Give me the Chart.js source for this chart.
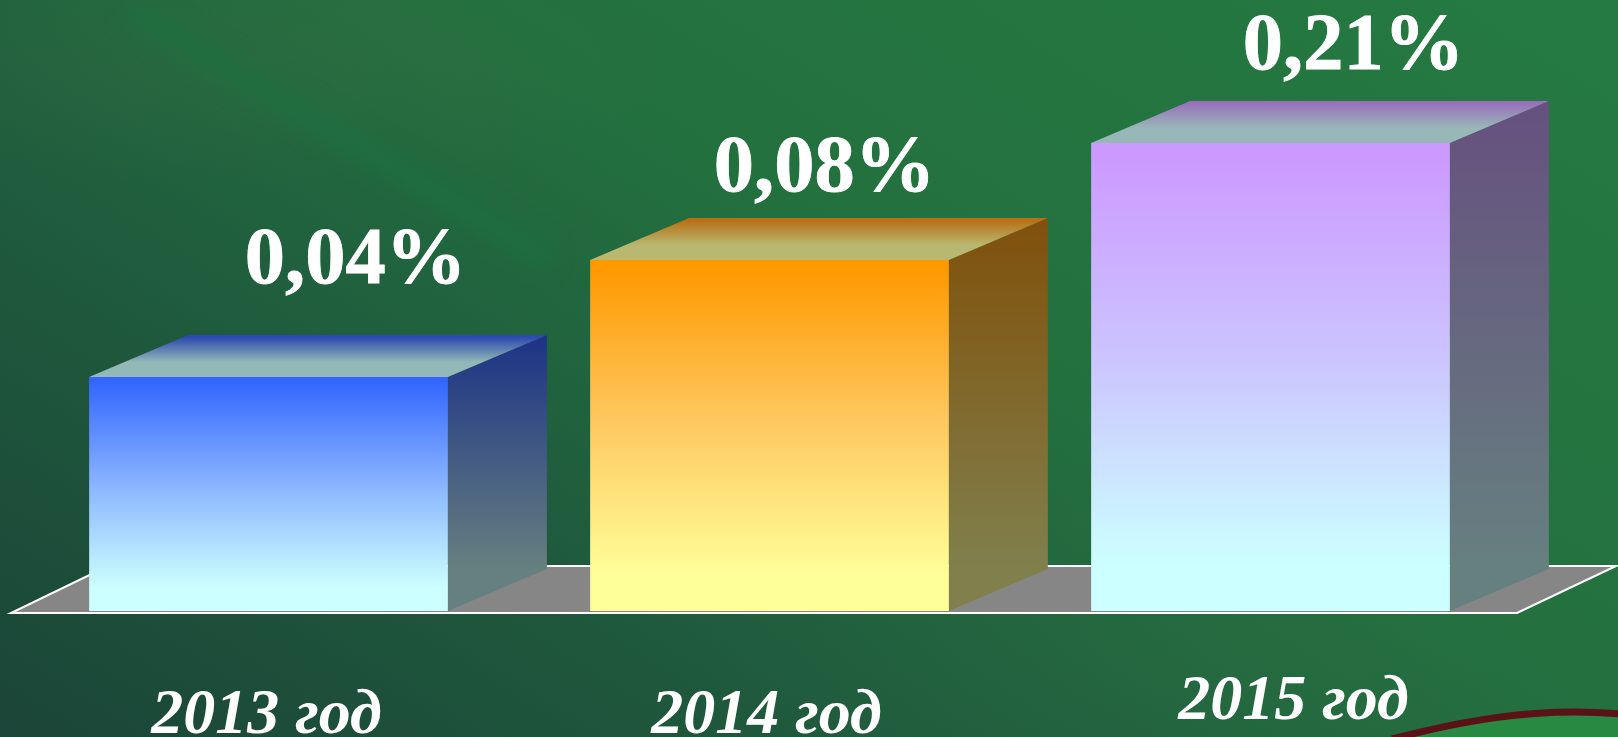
<!DOCTYPE html>
<html lang="ru">
<head>
<meta charset="UTF-8">
<title>2013-2015</title>
<script src="https://cdn.jsdelivr.net/npm/chart.js"></script>
<style>
    html, body { margin: 0; padding: 0; width: 1618px; height: 737px; overflow: hidden; }
    body {
        background:
            radial-gradient(ellipse 420px 130px at 260px 60px, rgba(70,115,70,0.22), rgba(70,115,70,0)),
            radial-gradient(ellipse 500px 200px at 1200px 660px, rgba(50,110,70,0.22), rgba(50,110,70,0)),
            linear-gradient(32deg, #1b4538 0%, #1f5a3d 30%, #23703f 58%, #257a42 100%);
    }
    canvas { display: block; }
</style>
</head>
<body>
<canvas id="chart" width="1618" height="737"></canvas>
<script>
// data
const categories = ['2013 год', '2014 год', '2015 год'];
const percentLabels = ['0,04%', '0,08%', '0,21%'];
// the picture's bars are not to scale with their labels, so heights are kept as drawn (tallest = 1)
const barLevels = [0.5, 0.75, 1];

// colours per bar: [top, middle, bottom]
const frontColors = [['#3366ff', '#8ab4ff', '#ccffff'], ['#ff9900', '#ffc860', '#ffff99'], ['#cc99ff', '#ccc4ff', '#ccffff']];
const sideColors = [['#1c3286', '#668080'], ['#80500a', '#80804d'], ['#66507f', '#668080']];
const topColors = [['#2c49ad', '#93b8b8'], ['#b96f14', '#b8b870'], ['#9a70bb', '#98b8b8']];

const depthX = 99;
const depthY = 42;
// nudges of the texts from the bar centres, the source slide placed them by hand
const valueShiftX = [87, 55, 83];
const valueLift = [52, 27, 32];
const catShiftX = [-2, -3, 23];
const catBaseline = [733, 733, 719];

function vGrad(ctx, y0, y1, colors, a, b) {
    const g = ctx.createLinearGradient(0, y0, 0, y1);
    colors.forEach((c, i) => g.addColorStop(a + (b - a) * i / (colors.length - 1), c));
    return g;
}

function poly(ctx, pts) {
    ctx.beginPath();
    ctx.moveTo(pts[0][0], pts[0][1]);
    for (let i = 1; i < pts.length; i++) ctx.lineTo(pts[i][0], pts[i][1]);
    ctx.closePath();
}

function swoosh(ctx) {
    ctx.moveTo(1392, 739);
    ctx.bezierCurveTo(1450, 724, 1530, 706, 1620, 714);
}

const backdrop = {
    id: 'backdrop',
    beforeDraw(chart) {
        const ctx = chart.ctx;
        ctx.save();
        // faint streak in the slide's texture
        ctx.filter = 'blur(10px)';
        ctx.beginPath();
        ctx.moveTo(130, 10);
        ctx.lineTo(550, 260);
        ctx.strokeStyle = 'rgba(28,112,66,0.7)';
        ctx.lineWidth = 26;
        ctx.stroke();
        ctx.filter = 'none';
        // swoosh in the bottom right corner of the slide
        ctx.beginPath();
        swoosh(ctx);
        ctx.lineTo(1620, 739);
        ctx.closePath();
        ctx.fillStyle = '#288a42';
        ctx.fill();
        ctx.beginPath();
        swoosh(ctx);
        ctx.strokeStyle = '#5a1216';
        ctx.lineWidth = 7;
        ctx.stroke();
        ctx.restore();
    }
};

const floor3d = {
    id: 'floor3d',
    beforeDatasetsDraw(chart) {
        const ctx = chart.ctx;
        const area = chart.chartArea;
        const y = area.bottom + 2;
        const left = area.left - 7;
        const right = area.right - 4;
        ctx.save();
        poly(ctx, [[left, y], [right, y], [right + depthX, y - 47], [left + depthX - 2, y - 47]]);
        ctx.fillStyle = '#868686';
        ctx.fill();
        ctx.strokeStyle = '#ffffff';
        ctx.lineWidth = 2;
        ctx.stroke();
        ctx.restore();
    }
};

const bars3d = {
    id: 'bars3d',
    // side and top faces sit behind the front face the library draws
    beforeDatasetDraw(chart) {
        const ctx = chart.ctx;
        chart.getDatasetMeta(0).data.forEach((bar, i) => {
            const l = bar.x - bar.width / 2;
            const r = bar.x + bar.width / 2;
            const t = bar.y;
            const b = bar.base;
            poly(ctx, [[r, t], [r + depthX, t - depthY], [r + depthX, b - depthY], [r, b]]);
            ctx.fillStyle = vGrad(ctx, t - depthY, b - depthY, sideColors[i], 0, 1);
            ctx.fill();
            poly(ctx, [[l, t], [l + depthX, t - depthY], [r + depthX, t - depthY], [r, t]]);
            ctx.fillStyle = vGrad(ctx, t - depthY, t, topColors[i], 0.05, 0.65);
            ctx.fill();
        });
    },
    afterDraw(chart) {
        const ctx = chart.ctx;
        ctx.save();
        ctx.fillStyle = '#ffffff';
        ctx.strokeStyle = '#ffffff';
        ctx.lineWidth = 0.8;
        ctx.textAlign = 'center';
        ctx.textBaseline = 'alphabetic';
        chart.getDatasetMeta(0).data.forEach((bar, i) => {
            ctx.font = 'bold 80.5px "Liberation Serif"';
            ctx.fillText(percentLabels[i], bar.x + valueShiftX[i], bar.y - depthY - valueLift[i]);
            ctx.strokeText(percentLabels[i], bar.x + valueShiftX[i], bar.y - depthY - valueLift[i]);
            ctx.font = 'italic bold 64px "Liberation Serif"';
            ctx.fillText(categories[i], bar.x + catShiftX[i], catBaseline[i]);
        });
        ctx.restore();
    }
};

new Chart(document.getElementById('chart').getContext('2d'), {
    type: 'bar',
    data: {
        labels: categories,
        datasets: [{
            data: barLevels,
            borderWidth: 0,
            barPercentage: 0.716,
            categoryPercentage: 1,
            backgroundColor(c) {
                const area = c.chart.chartArea;
                if (!area || c.dataIndex === undefined) return frontColors[0][0];
                const top = c.chart.scales.y.getPixelForValue(barLevels[c.dataIndex]);
                return vGrad(c.chart.ctx, top, area.bottom, frontColors[c.dataIndex], 0.02, 0.9);
            }
        }]
    },
    options: {
        responsive: false,
        animation: false,
        layout: { padding: { left: 18, right: 97, top: 143, bottom: 126 } },
        plugins: { legend: { display: false }, tooltip: { enabled: false } },
        scales: {
            x: { display: false },
            y: { display: false, min: 0, max: 1 }
        }
    },
    plugins: [backdrop, floor3d, bars3d]
});
</script>
</body>
</html>
